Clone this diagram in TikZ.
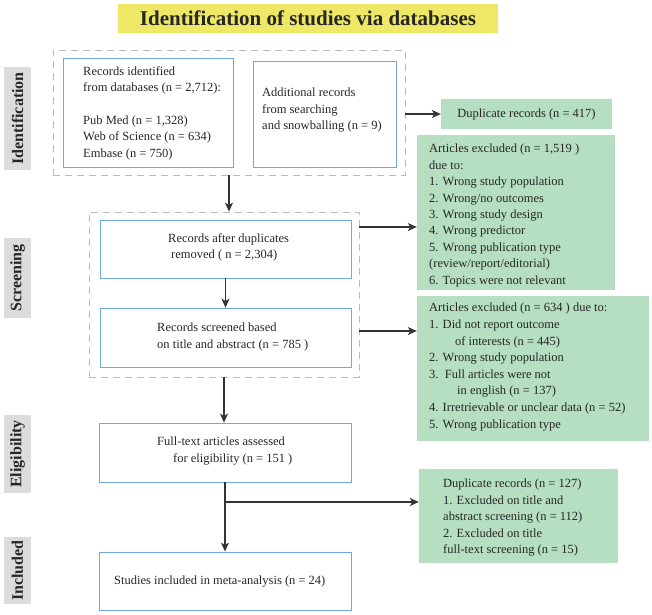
\documentclass[tikz,border=0pt]{standalone}
\usepackage{fontspec}
\setmainfont{Liberation Serif}
\usetikzlibrary{arrows.meta,fit}
\definecolor{bluebd}{HTML}{6FA8DC}
\definecolor{greenfill}{HTML}{B6DEC1}
\definecolor{yellowfill}{HTML}{EEE866}
\definecolor{stagegray}{HTML}{DCDCDC}
\definecolor{arrowgray}{HTML}{333333}
\definecolor{dashgray}{HTML}{BBBBBB}
\definecolor{textdark}{HTML}{262626}
\begin{document}
\begin{tikzpicture}[x=1pt,y=-1pt,
  bluebox/.style={draw=bluebd, line width=0.9pt, fill=white, inner sep=0},
  greenbox/.style={fill=greenfill, inner sep=0},
  yellowbox/.style={fill=yellowfill, inner sep=0},
  dashbox/.style={draw=dashgray, dash pattern=on 7pt off 5pt, line width=0.8pt, inner sep=0},
  stagebox/.style={fill=stagegray, inner sep=0, rotate=90, font=\fontsize{16}{18}\selectfont\bfseries, text=textdark},
  txt/.style={inner sep=0, anchor=north west, align=left, font=\fontsize{12.5}{16.4}\selectfont, text=textdark},
  arr/.style={draw=arrowgray, line width=1.1pt, -{Stealth[length=9pt,width=8pt,inset=2.5pt]}},
]
\useasboundingbox (0,0) rectangle (652,614);

% title
\node[yellowbox, fit={(118,4) (498,33)}] (title) {};
\node[inner sep=0, text=textdark, font=\fontsize{21}{24}\selectfont\bfseries] (titletxt) at (title.center) {Identification of studies via databases};

% stage labels
\node[stagebox, minimum width=103pt, minimum height=27pt] (sId) at (17.5,118.5) {Identification};
\node[stagebox, minimum width=80pt, minimum height=27pt] (sSc) at (17.5,278) {Screening};
\node[stagebox, minimum width=78pt, minimum height=27pt] (sEl) at (17.5,454) {Eligibility};
\node[stagebox, minimum width=67pt, minimum height=27pt] (sIn) at (17.5,570.5) {Included};

% dashed groups
\node[dashbox, fit={(53,50) (405,175)}] (D1) {};
\node[dashbox, fit={(89,212) (359,377)}] (D2) {};

% blue boxes
\node[bluebox, fit={(63,58) (233,167)}] (A) {};
\node[txt] (Atxt) at (83,66) {Records identified\\from databases (n = 2,712):\\[16.4pt]Pub Med (n = 1,328)\\Web of Science (n = 634)\\Embase (n = 750)};

\node[bluebox, fit={(253,61) (396,167)}] (B) {};
\node[txt] (Btxt) at (262,88) {Additional records\\from searching\\and snowballing (n = 9)};

\node[bluebox, fit={(100,220) (351,278)}] (C) {};
\node[txt] (Ctxt) at (168,233) {Records after duplicates\\\hspace*{3pt}removed ( n = 2,304)};

\node[bluebox, fit={(100,308) (351,367)}] (Dbox) {};
\node[txt] (Dtxt) at (157,323) {Records screened based\\on title and abstract (n = 785 )};

\node[bluebox, fit={(99,423) (351,482)}] (E) {};
\node[txt] (Etxt) at (157,437) {Full-text articles assessed\\\hspace*{16pt}for eligibility (n = 151 )};

\node[bluebox, fit={(99,552) (351,610)}] (F) {};
\node[txt] (Ftxt) at (114,576) {Studies included in meta-analysis (n = 24)};

% green boxes
\node[greenbox, fit={(441,99) (612,129)}] (dup) {};
\node[inner sep=0, font=\fontsize{12.5}{16.4}\selectfont, text=textdark] (duptxt) at (dup.center) {Duplicate records (n = 417)};

\node[greenbox, fit={(417,135) (615,290)}] (ex1) {};
\node[txt] (ex1txt) at (429,144) {Articles excluded (n = 1,519 )\\due to:\\1. Wrong study population\\2. Wrong/no outcomes\\3. Wrong study design\\4. Wrong predictor\\5. Wrong publication type\\(review/report/editorial)\\6. Topics were not relevant};

\node[greenbox, fit={(417,296) (649,441)}] (ex2) {};
\node[txt, font=\fontsize{12.5}{16.6}\selectfont] (ex2txt) at (429,303) {Articles excluded (n = 634 ) due to:\\1. Did not report outcome\\\hspace*{26pt}of interests (n = 445)\\2. Wrong study population\\3.\ \ Full articles were not\\\hspace*{28pt}in english (n = 137)\\4. Irretrievable or unclear data (n = 52)\\5. Wrong publication type};

\node[greenbox, fit={(419,469) (618,563)}] (ex3) {};
\node[txt] (ex3txt) at (443,479) {Duplicate records (n = 127)\\1. Excluded on title and\\abstract screening (n = 112)\\2. Excluded on title\\full-text screening (n = 15)};

% connectors
\draw[arr] (dup.west -| D1.east) -- (dup.west);
\draw[arr] (D1.south) -- (D1.south |- D2.north);
\draw[arr] (C.south) -- (Dbox.north);
\coordinate (o1) at (359,227);
\coordinate (o2) at (359,331);
\draw[arr] (o1) -- (o1 -| ex1.west);
\draw[arr] (o2) -- (o2 -| ex2.west);
\draw[arr] (D2.south) -- (D2.south |- E.north);
\draw[arr] (E.south) -- (F.north);
\coordinate (br) at (225,502);
\draw[arr] (br) -- (br -| ex3.west);
\end{tikzpicture}
\end{document}
